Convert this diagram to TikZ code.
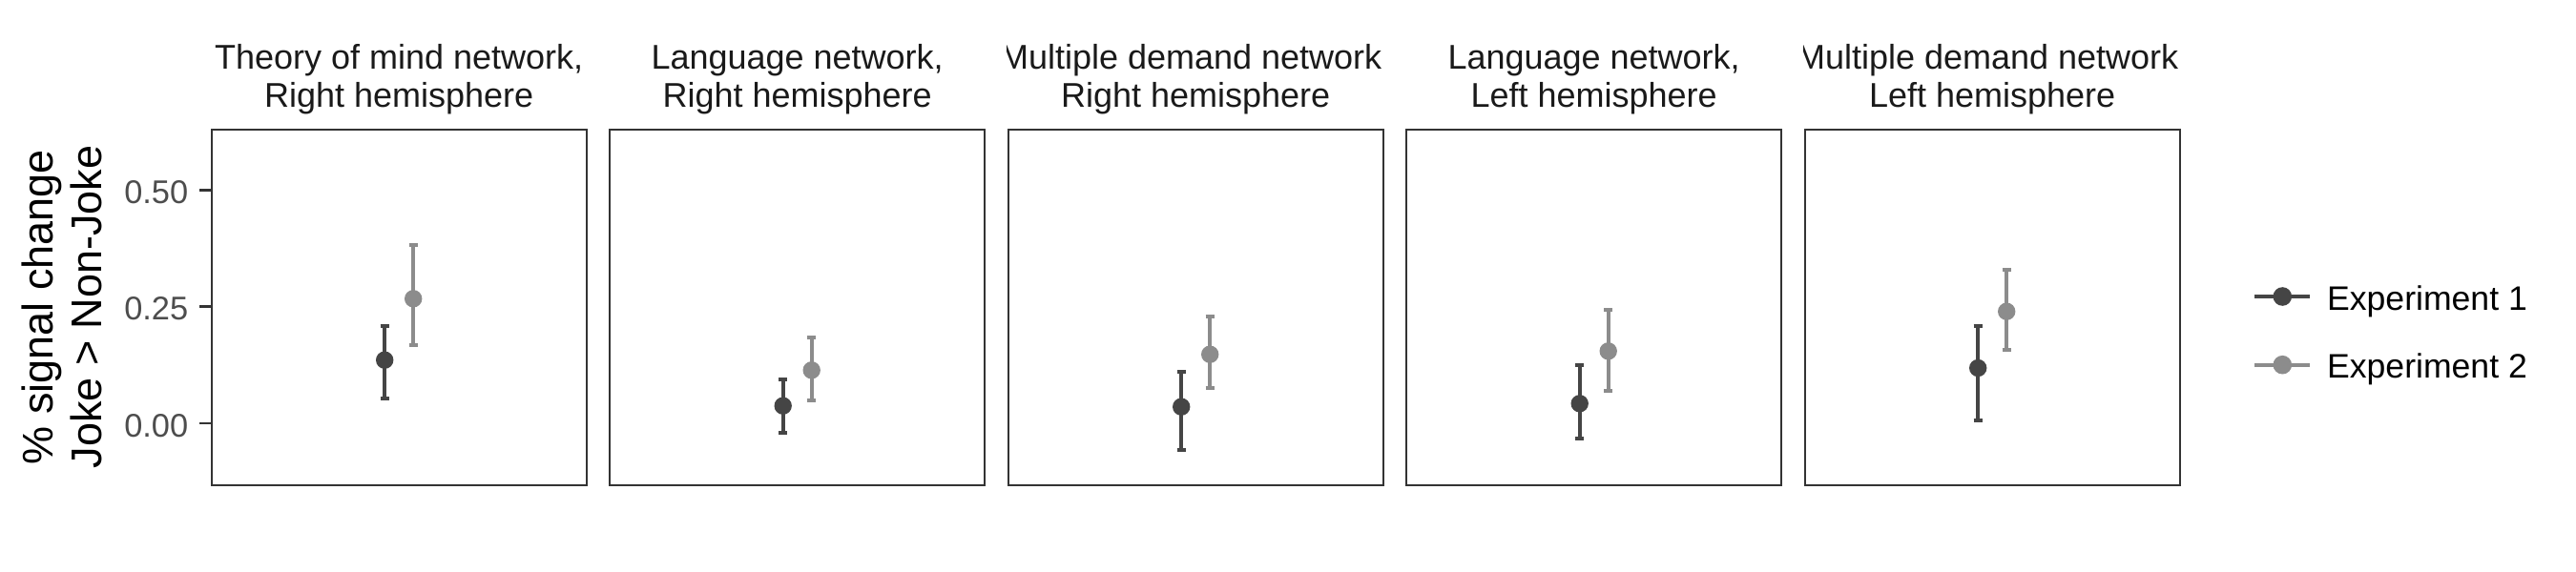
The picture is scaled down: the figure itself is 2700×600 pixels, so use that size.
\documentclass[tikz,border=0pt]{standalone}
\usepackage{fontspec}
\setmainfont{Liberation Sans}
\definecolor{expA}{HTML}{454545}
\definecolor{expB}{HTML}{8C8C8C}
\definecolor{framecol}{HTML}{333333}
\definecolor{ticklab}{HTML}{4D4D4D}
\definecolor{striptext}{HTML}{1A1A1A}
\tikzset{
  panelbox/.style={draw=framecol, line width=0.5pt, inner sep=0pt, minimum width=98.25pt, minimum height=93.375pt},
  tickmark/.style={draw=framecol, line width=0.7pt},
  ticklabel/.style={text=ticklab, font=\fontsize{8.6}{10}\selectfont, anchor=base east, inner sep=0pt},
  striplabel/.style={text=striptext, font=\fontsize{9}{10}\selectfont, anchor=base, inner sep=0pt},
  ytitle/.style={text=black, font=\fontsize{11.25}{13}\selectfont, rotate=90, anchor=base, inner sep=0pt},
  legendlabel/.style={text=black, font=\fontsize{8.9}{10}\selectfont, anchor=base west, inner sep=0pt},
  ebar/.style={line width=1pt},
  capline/.style={line width=1pt},
  dot/.style={circle, inner sep=0pt, minimum size=4.6pt, draw=none},
  legdot/.style={circle, inner sep=0pt, minimum size=4.9pt, draw=none},
  legline/.style={line width=1pt},
}
\newcommand\drawpbar[6]{%
  \coordinate (#1t) at (#2,#4);
  \coordinate (#1b) at (#2,#5);
  \draw[ebar,#6] (#1t) -- (#1b);
  \draw[capline,#6] ([xshift=-1.15pt]#1t) -- ([xshift=1.15pt]#1t);
  \draw[capline,#6] ([xshift=-1.15pt]#1b) -- ([xshift=1.15pt]#1b);
  \node[dot,fill=#6] (#1) at (#2,#3) {};
}
\begin{document}
\begin{tikzpicture}[x=0.25pt, y=-0.25pt]
\fill[white] (0,0) rectangle (2700,600);
\useasboundingbox (0,0) rectangle (2700,600);

% panels
\node[panelbox] (p1) at (418.2,322.25) {};
\node[panelbox] (p2) at (835.7,322.25) {};
\node[panelbox] (p3) at (1253.2,322.25) {};
\node[panelbox] (p4) at (1670.7,322.25) {};
\node[panelbox] (p5) at (2088.2,322.25) {};

% strip titles (clipped to panel width)
\begin{scope}
  \clip (p1.west |- 0,0) rectangle (p1.north east);
  \node[striplabel] (t1a) at (p1.center |- 0,72) {Theory of mind network,};
  \node[striplabel] (t1b) at (p1.center |- 0,112) {Right hemisphere};
\end{scope}
\begin{scope}
  \clip (p2.west |- 0,0) rectangle (p2.north east);
  \node[striplabel] (t2a) at (p2.center |- 0,72) {Language network,};
  \node[striplabel] (t2b) at (p2.center |- 0,112) {Right hemisphere};
\end{scope}
\begin{scope}
  \clip (p3.west |- 0,0) rectangle (p3.north east);
  \node[striplabel] (t3a) at (p3.center |- 0,72) {Multiple demand network,};
  \node[striplabel] (t3b) at (p3.center |- 0,112) {Right hemisphere};
\end{scope}
\begin{scope}
  \clip (p4.west |- 0,0) rectangle (p4.north east);
  \node[striplabel] (t4a) at (p4.center |- 0,72) {Language network,};
  \node[striplabel] (t4b) at (p4.center |- 0,112) {Left hemisphere};
\end{scope}
\begin{scope}
  \clip (p5.west |- 0,0) rectangle (p5.north east);
  \node[striplabel] (t5a) at (p5.center |- 0,72) {Multiple demand network,};
  \node[striplabel] (t5b) at (p5.center |- 0,112) {Left hemisphere};
\end{scope}

% y axis ticks and labels
\draw[tickmark] (p1.west |- 0,199.3) -- ++(-12,0);
\draw[tickmark] (p1.west |- 0,321.7) -- ++(-12,0);
\draw[tickmark] (p1.west |- 0,444) -- ++(-12,0);
\node[ticklabel] (y50) at (198,213.3) {0.50};
\node[ticklabel] (y25) at (198,335.7) {0.25};
\node[ticklabel] (y00) at (198,458) {0.00};

% y axis title
\node[ytitle] (yt1) at (55,322) {\% signal change};
\node[ytitle] (yt2) at (107,322) {Joke > Non-Joke};

% data
\drawpbar{a1}{403.2}{377.7}{341.7}{418}{expA}
\drawpbar{b1}{433.2}{313.3}{257}{361.7}{expB}
\drawpbar{a2}{820.7}{425.7}{398}{454}{expA}
\drawpbar{b2}{850.7}{388.3}{354}{419.7}{expB}
\drawpbar{a3}{1238.2}{426.7}{390}{471.7}{expA}
\drawpbar{b3}{1268.2}{371.7}{331.7}{407}{expB}
\drawpbar{a4}{1655.7}{423.3}{382.7}{460}{expA}
\drawpbar{b4}{1685.7}{368.3}{325.3}{409.7}{expB}
\drawpbar{a5}{2073.2}{386}{342}{441.3}{expA}
\drawpbar{b5}{2103.2}{326.7}{283.3}{367.3}{expB}

% legend
\coordinate (l1a) at (2363.3,311);
\coordinate (l1b) at (2421,311);
\draw[legline,expA] (l1a) -- (l1b);
\node[legdot,fill=expA] (l1) at (2392.3,311) {};
\node[legendlabel] (lt1) at (2438.3,325) {Experiment 1};
\coordinate (l2a) at (2363.3,382.7);
\coordinate (l2b) at (2421,382.7);
\draw[legline,expB] (l2a) -- (l2b);
\node[legdot,fill=expB] (l2) at (2392.3,382.7) {};
\node[legendlabel] (lt2) at (2438.3,396.7) {Experiment 2};
\end{tikzpicture}
\end{document}
